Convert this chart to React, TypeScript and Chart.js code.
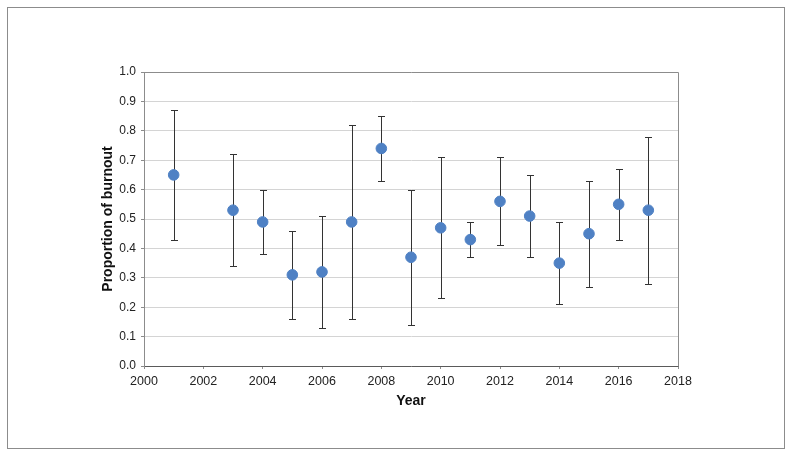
import React, { useEffect, useRef } from "react";
import { Chart, registerables } from "chart.js";

Chart.register(...registerables);

const years = [2001, 2003, 2004, 2005, 2006, 2007, 2008, 2009, 2010, 2011, 2012, 2013, 2014, 2015, 2016, 2017];
const proportion = [0.65, 0.53, 0.49, 0.31, 0.32, 0.49, 0.74, 0.37, 0.47, 0.43, 0.56, 0.51, 0.35, 0.45, 0.55, 0.53];
const lowerCI = [0.43, 0.34, 0.38, 0.16, 0.13, 0.16, 0.63, 0.14, 0.23, 0.37, 0.41, 0.37, 0.21, 0.27, 0.43, 0.28];
const upperCI = [0.87, 0.72, 0.6, 0.46, 0.51, 0.82, 0.85, 0.6, 0.71, 0.49, 0.71, 0.65, 0.49, 0.63, 0.67, 0.78];

const FONT = "'Liberation Sans', Arial, Helvetica, sans-serif";

const errorBarPlugin = {
  id: "errorBars",
  beforeDatasetsDraw(chart: any) {
    const { ctx, chartArea, scales } = chart;
    const xs = scales.x;
    const ys = scales.y;
    ctx.save();
    // plot-area frame (top & right)
    ctx.strokeStyle = "#8c8c8c";
    ctx.lineWidth = 1;
    ctx.beginPath();
    ctx.moveTo(Math.round(chartArea.left) + 0.5, Math.round(chartArea.top) + 0.5);
    ctx.lineTo(Math.round(chartArea.right) + 0.5, Math.round(chartArea.top) + 0.5);
    ctx.lineTo(Math.round(chartArea.right) + 0.5, Math.round(chartArea.bottom) + 0.5);
    ctx.stroke();
    ctx.strokeStyle = "#333333";
    ctx.lineWidth = 1;
    years.forEach((yr, i) => {
      const x = Math.round(xs.getPixelForValue(yr)) + 0.5;
      const yl = Math.round(ys.getPixelForValue(lowerCI[i])) + 0.5;
      const yu = Math.round(ys.getPixelForValue(upperCI[i])) + 0.5;
      ctx.beginPath();
      ctx.moveTo(x, yl);
      ctx.lineTo(x, yu);
      ctx.moveTo(x - 3.5, yl);
      ctx.lineTo(x + 3.5, yl);
      ctx.moveTo(x - 3.5, yu);
      ctx.lineTo(x + 3.5, yu);
      ctx.stroke();
    });
    ctx.restore();
  },
};

export default function App() {
  const canvasRef = useRef<HTMLCanvasElement | null>(null);

  useEffect(() => {
    if (!canvasRef.current) return;
    const chart = new Chart(canvasRef.current, {
      type: "scatter",
      data: {
        datasets: [
          {
            label: "Proportion of burnout",
            data: years.map((y, i) => ({ x: y, y: proportion[i] })),
            backgroundColor: "#4f81c4",
            borderColor: "#4f81c4",
            pointRadius: 5.3,
            pointHoverRadius: 5.3,
          },
        ],
      },
      options: {
        responsive: false,
        animation: false,
        events: [],
        layout: { padding: { left: 96, top: 72, right: 113, bottom: 42 } },
        plugins: {
          legend: { display: false },
          tooltip: { enabled: false },
        },
        scales: {
          x: {
            type: "linear",
            min: 2000,
            max: 2018,
            afterFit: (s: any) => {
              s.height = 48;
            },
            ticks: {
              stepSize: 2,
              padding: 5,
              color: "#222",
              font: { family: FONT, size: 12.5 },
              callback: (v: any) => String(v),
              maxRotation: 0,
            },
            grid: {
              drawOnChartArea: false,
              drawTicks: true,
              tickLength: 3,
              tickColor: "#8c8c8c",
            },
            border: { color: "#5a5a5a", width: 1 },
            title: {
              display: true,
              text: "Year",
              color: "#111",
              font: { family: FONT, size: 14, weight: "bold" },
            },
          },
          y: {
            min: 0,
            max: 1,
            afterFit: (s: any) => {
              s.width = 48;
            },
            ticks: {
              stepSize: 0.1,
              padding: 5,
              color: "#222",
              font: { family: FONT, size: 12 },
              callback: (v: any) => Number(v).toFixed(1),
            },
            grid: {
              color: "#d4d4d4",
              lineWidth: 1,
              tickLength: 3,
              tickColor: "#8c8c8c",
            },
            border: { color: "#8c8c8c", width: 1 },
            title: {
              display: true,
              text: "Proportion of burnout",
              color: "#111",
              font: { family: FONT, size: 14, weight: "bold" },
            },
          },
        },
      },
      plugins: [errorBarPlugin],
    } as any);
    return () => chart.destroy();
  }, []);

  return (
    <div style={{ position: "absolute", left: 0, top: 0, width: 791, height: 456, background: "#fff" }}>
      <div
        style={{
          position: "absolute",
          left: 7,
          top: 7,
          width: 778,
          height: 442,
          border: "1px solid #8c8c8c",
          boxSizing: "border-box",
        }}
      />
      <canvas
        ref={canvasRef}
        width={791}
        height={456}
        style={{ position: "absolute", left: 0, top: 0, width: 791, height: 456 }}
      />
    </div>
  );
}
